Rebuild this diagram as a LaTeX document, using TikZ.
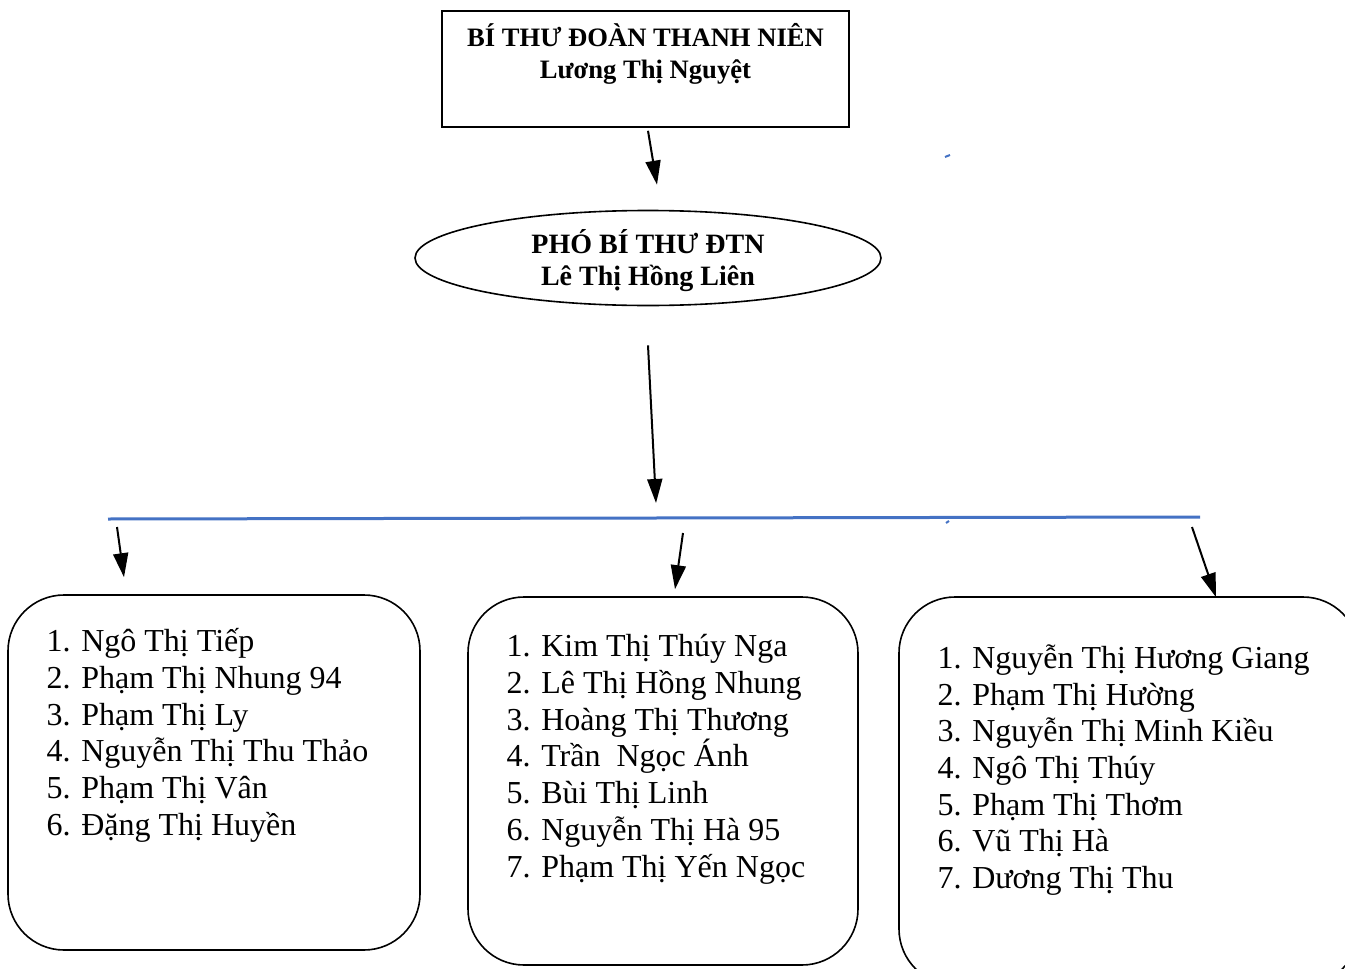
\documentclass[tikz,border=0pt]{standalone}
\usepackage{fontspec}
\setmainfont{Liberation Serif}
\usetikzlibrary{positioning, arrows.meta, shapes.geometric}
\definecolor{busblue}{RGB}{68,114,196}
\tikzset{arr/.style={line width=1pt, -{Triangle[length=12pt,width=7.5pt]}}}

\begin{document}
\begin{tikzpicture}[x=0.5pt,y=-0.5pt]
    \tikzstyle{headbox}=[draw,thick,minimum width=203.5pt,minimum height=58pt,inner sep=0pt]
    \tikzstyle{headtext}=[align=center,inner sep=0pt,font=\fontsize{13.3}{16}\selectfont\bfseries]
    \tikzstyle{group}=[draw,thick,rounded corners=28pt,inner sep=0pt]
    \tikzstyle{list}=[align=left,inner sep=0pt,font=\fontsize{16}{18.35}\selectfont]
    \clip (0,0) rectangle (1345,969);

    \node (bithu)[headbox] at (645.5,69) {};
    \node (bithuT)[headtext,below=6.5pt of bithu.north] {BÍ THƯ ĐOÀN THANH NIÊN\\Lương Thị Nguyệt};

    \node (phobithu)[ellipse,draw,thick,minimum width=233pt,minimum height=47.5pt,headtext,
        font=\fontsize{14}{16}\selectfont\bfseries] at (648,258) {};
    \node (phobithuT)[headtext,font=\fontsize{14}{16}\selectfont\bfseries,yshift=-1.5pt] at (phobithu)
        {PHÓ BÍ THƯ ĐTN\\Lê Thị Hồng Liên};

    \coordinate (busL) at (108,519);
    \coordinate (busR) at (1200,517);
    \draw[busblue,line width=1.5pt] (busL) -- (busR);
    % two small blue strokes
    \draw[busblue,line width=1pt] (945,157) -- (950,155);
    \draw[busblue,line width=1pt] (946,523) -- (949,521);

    \node (g1)[group,minimum width=206pt,minimum height=177.5pt] at (214,772.5) {};
    \node (g2)[group,minimum width=195pt,minimum height=184pt] at (663,781) {};
    \node (g3)[group,minimum width=230pt,minimum height=194pt] at (1129,791) {};

    \node (l1)[list,below right=17pt and 19.5pt of g1.north west,anchor=north west]
        {1. Ngô Thị Tiếp\\2. Phạm Thị Nhung 94\\3. Phạm Thị Ly\\4. Nguyễn Thị Thu Thảo\\5. Phạm Thị Vân\\6. Đặng Thị Huyền};
    \node (l2)[list,below right=19pt and 19.5pt of g2.north west,anchor=north west]
        {1. Kim Thị Thúy Nga\\2. Lê Thị Hồng Nhung\\3. Hoàng Thị Thương\\4. Trần\ \ Ngọc Ánh\\5. Bùi Thị Linh\\6. Nguyễn Thị Hà 95\\7. Phạm Thị Yến Ngọc};
    \node (l3)[list,below right=24pt and 19.5pt of g3.north west,anchor=north west]
        {1. Nguyễn Thị Hương Giang\\2. Phạm Thị Hường\\3. Nguyễn Thị Minh Kiều\\4. Ngô Thị Thúy\\5. Phạm Thị Thơm\\6. Vũ Thị Hà\\7. Dương Thị Thu};

    \draw[arr] ([shift={(2.5,3)}]bithu.south) -- ([shift={(9,-25)}]phobithu.north);
    \draw[arr] ([shift={(0,39)}]phobithu.south) -- ([shift={(548,-16)}]busL);
    \draw[arr] ([shift={(9,8)}]busL) -- ([shift={(-90,-17)}]g1.north);
    \draw[arr] ([shift={(575,14)}]busL) -- ([shift={(12,-7)}]g2.north);
    \draw[arr] ([shift={(-8,10)}]busR) -- ([shift={(87,1)}]g3.north);
\end{tikzpicture}
\end{document}
